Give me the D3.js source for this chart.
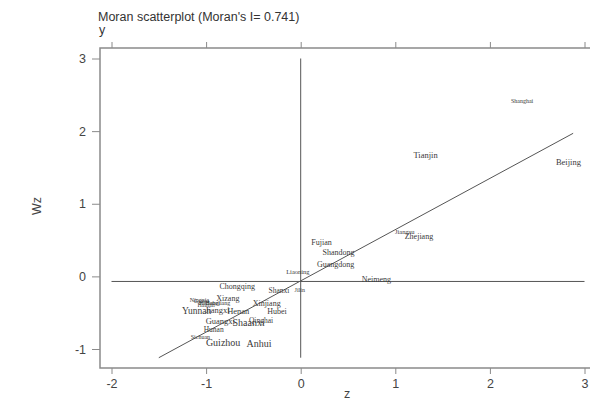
<!DOCTYPE html>
<html>
<head>
<meta charset="utf-8">
<script src="https://cdn.jsdelivr.net/npm/d3@7"></script>
<style>
  body { margin: 0; background: #fff; }
  svg { display: block; }
</style>
</head>
<body>
<div id="chart"></div>
<script>
// Province labels with standardized value z and spatial lag Wz
const provinces = ['Beijing', 'Tianjin', 'Hebei', 'Shanxi', 'Neimeng', 'Liaoning', 'Jilin', 'Heilongjiang',
    'Shanghai', 'Jiangsu', 'Zhejiang', 'Anhui', 'Fujian', 'Jiangxi', 'Shandong', 'Henan', 'Hubei', 'Hunan',
    'Guangdong', 'Guangxi', 'Hainan', 'Chongqing', 'Sichuan', 'Guizhou', 'Yunnan', 'Xizang', 'Shaanxi',
    'Gansu', 'Qinghai', 'Ningxia', 'Xinjiang'];
const zValues = [2.83, 1.32, -0.93, -0.23, 0.80, -0.03, -0.01, -0.91,
    2.34, 1.10, 1.25, -0.44, 0.22, -0.88, 0.40, -0.66, -0.25, -0.92,
    0.37, -0.85, -1.00, -0.67, -1.06, -0.82, -1.10, -0.77, -0.55,
    -1.05, -0.42, -1.07, -0.36];
const wzValues = [1.57, 1.67, -0.37, -0.19, -0.04, 0.07, -0.18, -0.36,
    2.42, 0.62, 0.56, -0.92, 0.47, -0.47, 0.33, -0.48, -0.48, -0.73,
    0.17, -0.61, -0.39, -0.14, -0.83, -0.91, -0.47, -0.30, -0.63,
    -0.34, -0.61, -0.33, -0.37];
const labelSizes = [8.5, 8.5, 6, 7.5, 8, 6.5, 6, 6,
    6, 6.5, 8, 10, 8, 8.5, 8, 8.5, 8, 7.5,
    8, 8.5, 6, 8, 6, 10, 9.5, 8, 10,
    6, 7.5, 6, 8];

const xTicks = [-2, -1, 0, 1, 2, 3];
const yTicks = [-1, 0, 1, 2, 3];
const moranI = 0.741;
const meanWz = -0.07;
const fitZ = [-1.5, 2.88];
const fitWz = [-1.12, 1.97];
const vLineWz = [-1.12, 3];

const width = 590, height = 403;
const frame = { left: 100, top: 48, right: 597, bottom: 368 };

const svg = d3.select('#chart')
    .append('svg')
    .attr('width', width)
    .attr('height', height);

const x = d3.scaleLinear().domain([-2, 3]).range([111.5, 584.5]);
const y = d3.scaleLinear().domain([-1, 3]).range([349, 58.5]);

const axisColor = '#8a8a8a';
const tickText = '#444';
const sans = 'Liberation Sans, Arial, sans-serif';

// Plot frame
svg.append('rect')
    .attr('x', frame.left)
    .attr('y', frame.top)
    .attr('width', frame.right - frame.left)
    .attr('height', frame.bottom - frame.top)
    .attr('fill', 'none')
    .attr('stroke', axisColor)
    .attr('stroke-width', 1.5);

// Bottom axis
const xAxis = svg.append('g')
    .attr('transform', `translate(0,${frame.bottom})`)
    .call(d3.axisBottom(x).tickValues(xTicks).tickSize(6).tickPadding(5).tickFormat(d => String(d)));
xAxis.select('.domain').remove();
xAxis.selectAll('line').attr('stroke', axisColor);
xAxis.selectAll('text')
    .attr('fill', tickText)
    .style('font-family', sans)
    .style('font-size', '12.5px');

// Top axis (ticks only)
const topAxis = svg.append('g')
    .attr('transform', `translate(0,${frame.top})`)
    .call(d3.axisTop(x).tickValues(xTicks).tickSize(6).tickFormat(''));
topAxis.select('.domain').remove();
topAxis.selectAll('line').attr('stroke', axisColor);

// Left axis
const yAxis = svg.append('g')
    .attr('transform', `translate(${frame.left},0)`)
    .call(d3.axisLeft(y).tickValues(yTicks).tickSize(8).tickPadding(6).tickFormat(d => String(d)));
yAxis.select('.domain').remove();
yAxis.selectAll('line').attr('stroke', axisColor);
yAxis.selectAll('text')
    .attr('fill', tickText)
    .style('font-family', sans)
    .style('font-size', '12.5px');

// Reference lines
const lineColor = '#555';
svg.append('line')
    .attr('x1', x(-2)).attr('x2', x(3))
    .attr('y1', y(meanWz)).attr('y2', y(meanWz))
    .attr('stroke', lineColor).attr('stroke-width', 1);

svg.append('line')
    .attr('x1', x(0)).attr('x2', x(0))
    .attr('y1', y(vLineWz[0])).attr('y2', y(vLineWz[1]))
    .attr('stroke', lineColor).attr('stroke-width', 1);

// Fitted line
svg.append('line')
    .attr('x1', x(fitZ[0])).attr('x2', x(fitZ[1]))
    .attr('y1', y(fitWz[0])).attr('y2', y(fitWz[1]))
    .attr('stroke', lineColor).attr('stroke-width', 1);

// Province labels
svg.append('g')
    .selectAll('text')
    .data(provinces)
    .join('text')
    .attr('x', (d, i) => x(zValues[i]))
    .attr('y', (d, i) => y(wzValues[i]))
    .attr('dy', '0.35em')
    .attr('text-anchor', 'middle')
    .attr('fill', '#3a3a3a')
    .style('font-family', 'Liberation Serif, serif')
    .style('font-size', (d, i) => labelSizes[i] + 'px')
    .text(d => d);

// Title and axis titles
svg.append('text')
    .attr('x', 98).attr('y', 21)
    .attr('fill', '#333')
    .style('font-family', sans).style('font-size', '12.5px')
    .text(`Moran scatterplot (Moran's I= ${moranI})`);

svg.append('text')
    .attr('x', 99).attr('y', 34)
    .attr('fill', '#333')
    .style('font-family', sans).style('font-size', '12.5px')
    .text('y');

svg.append('text')
    .attr('transform', 'translate(41,206) rotate(-90)')
    .attr('text-anchor', 'middle')
    .attr('fill', '#444')
    .style('font-family', sans).style('font-size', '12.5px')
    .text('Wz');

svg.append('text')
    .attr('x', 347).attr('y', 398)
    .attr('text-anchor', 'middle')
    .attr('fill', '#444')
    .style('font-family', sans).style('font-size', '12.5px')
    .text('z');
</script>
</body>
</html>
